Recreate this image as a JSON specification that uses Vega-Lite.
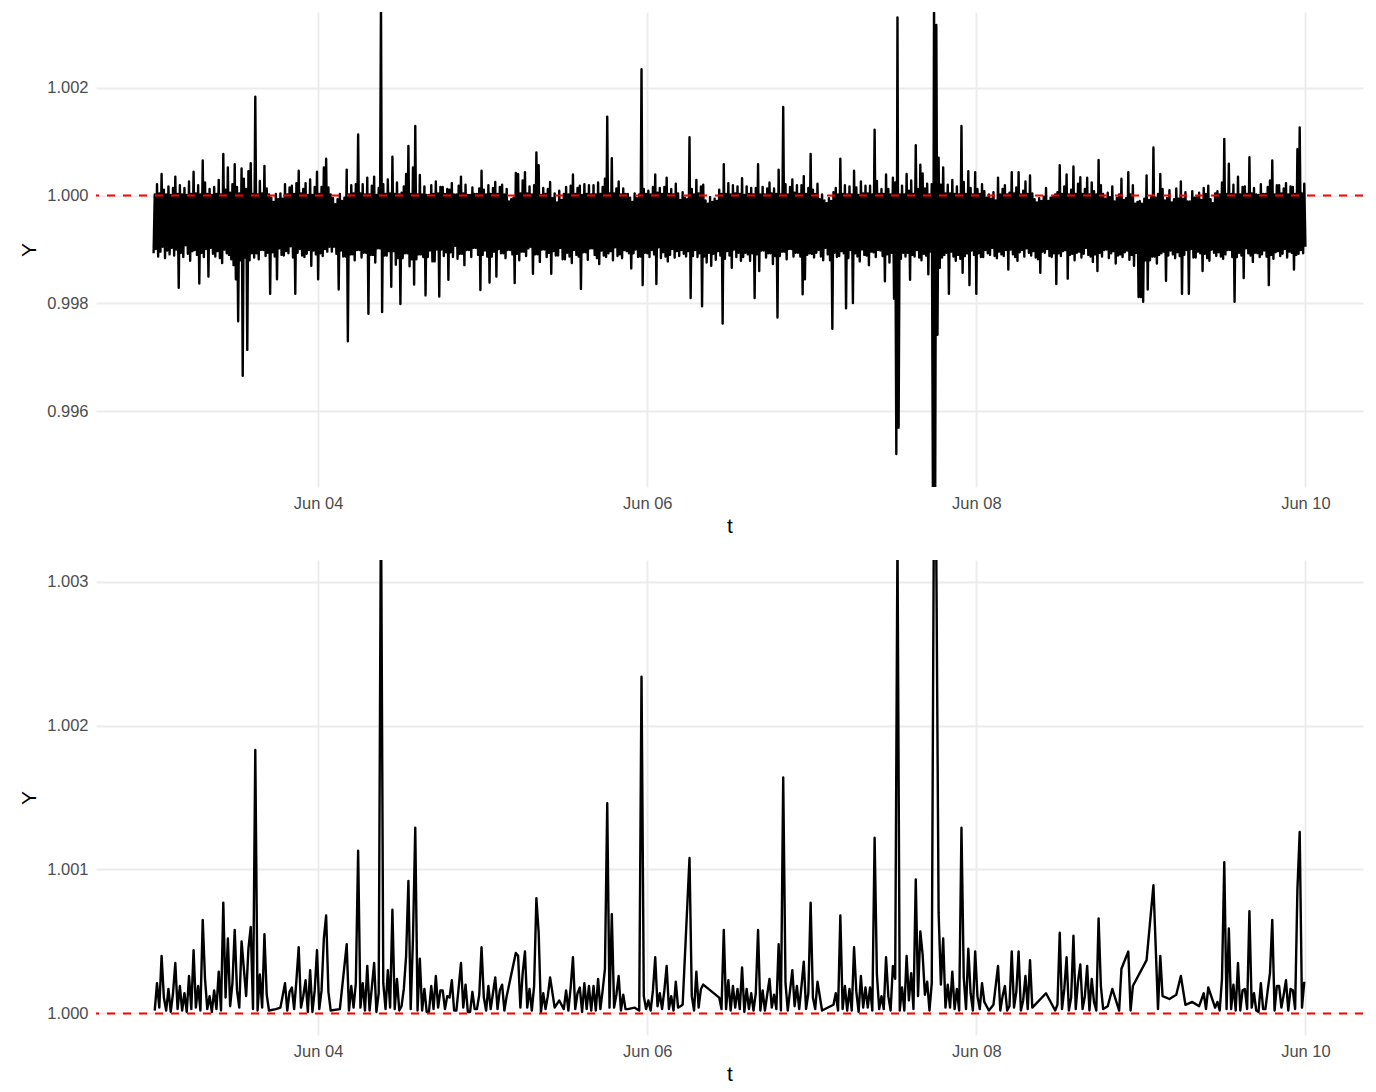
{
"$schema": "https://vega.github.io/schema/vega-lite/v6.json",
"padding": {"left": 18, "top": 12, "right": 14, "bottom": 5},
"config": {
 "view": {"stroke": null},
 "font": "Liberation Sans",
 "axis": {"labelFont": "Liberation Sans", "labelFontSize": 16.5, "labelColor": "#4D4D4D", "titleFont": "Liberation Sans", "titleFontSize": 21, "titleFontWeight": "normal", "titleColor": "#000000", "ticks": false, "domain": false, "gridColor": "#EBEBEB", "gridWidth": 1.8, "labelPadding": 8, "labelFlush": false, "labelOverlap": false}
},
"data": {"values": [
{"t":"2024-06-03T00:00","Y":0.99893},{"t":"2024-06-03T00:10","Y":1.00002},{"t":"2024-06-03T00:20","Y":0.99901},{"t":"2024-06-03T00:30","Y":1.00021},{"t":"2024-06-03T00:40","Y":0.99887},{"t":"2024-06-03T00:50","Y":1.00004},
{"t":"2024-06-03T01:00","Y":0.99896},{"t":"2024-06-03T01:10","Y":1.00040},{"t":"2024-06-03T01:20","Y":0.99905},{"t":"2024-06-03T01:30","Y":1.00011},{"t":"2024-06-03T01:40","Y":0.99884},{"t":"2024-06-03T01:50","Y":1.00002},
{"t":"2024-06-03T02:00","Y":0.99898},{"t":"2024-06-03T02:10","Y":1.00017},{"t":"2024-06-03T02:20","Y":0.99891},{"t":"2024-06-03T02:30","Y":1.00001},{"t":"2024-06-03T02:40","Y":0.99903},{"t":"2024-06-03T02:50","Y":1.00014},
{"t":"2024-06-03T03:00","Y":0.99889},{"t":"2024-06-03T03:10","Y":1.00035},{"t":"2024-06-03T03:20","Y":0.99900},{"t":"2024-06-03T03:30","Y":1.00003},{"t":"2024-06-03T03:40","Y":0.99829},{"t":"2024-06-03T03:50","Y":1.00019},
{"t":"2024-06-03T04:00","Y":0.99894},{"t":"2024-06-03T04:10","Y":1.00002},{"t":"2024-06-03T04:20","Y":0.99886},{"t":"2024-06-03T04:30","Y":1.00014},{"t":"2024-06-03T04:40","Y":0.99908},{"t":"2024-06-03T04:50","Y":1.00001},
{"t":"2024-06-03T05:00","Y":0.99892},{"t":"2024-06-03T05:10","Y":1.00026},{"t":"2024-06-03T05:20","Y":0.99879},{"t":"2024-06-03T05:30","Y":1.00003},{"t":"2024-06-03T05:40","Y":0.99897},{"t":"2024-06-03T05:50","Y":1.00044},
{"t":"2024-06-03T06:00","Y":0.99899},{"t":"2024-06-03T06:10","Y":1.00004},{"t":"2024-06-03T06:20","Y":0.99890},{"t":"2024-06-03T06:30","Y":1.00019},{"t":"2024-06-03T06:40","Y":0.99837},{"t":"2024-06-03T06:50","Y":1.00002},
{"t":"2024-06-03T07:00","Y":0.99894},{"t":"2024-06-03T07:10","Y":1.00065},{"t":"2024-06-03T07:20","Y":0.99886},{"t":"2024-06-03T07:30","Y":1.00024},{"t":"2024-06-03T07:40","Y":0.99901},{"t":"2024-06-03T07:50","Y":1.00003},
{"t":"2024-06-03T08:00","Y":0.99850},{"t":"2024-06-03T08:10","Y":1.00012},{"t":"2024-06-03T08:20","Y":0.99903},{"t":"2024-06-03T08:30","Y":1.00001},{"t":"2024-06-03T08:40","Y":0.99892},{"t":"2024-06-03T08:50","Y":1.00016},
{"t":"2024-06-03T09:00","Y":0.99887},{"t":"2024-06-03T09:10","Y":1.00003},{"t":"2024-06-03T09:20","Y":0.99897},{"t":"2024-06-03T09:30","Y":1.00029},{"t":"2024-06-03T09:40","Y":0.99884},{"t":"2024-06-03T09:50","Y":1.00002},
{"t":"2024-06-03T10:00","Y":0.99875},{"t":"2024-06-03T10:10","Y":1.00077},{"t":"2024-06-03T10:20","Y":0.99900},{"t":"2024-06-03T10:30","Y":1.00011},{"t":"2024-06-03T10:40","Y":0.99893},{"t":"2024-06-03T10:50","Y":1.00052},
{"t":"2024-06-03T11:00","Y":0.99890},{"t":"2024-06-03T11:10","Y":1.00005},{"t":"2024-06-03T11:20","Y":0.99882},{"t":"2024-06-03T11:30","Y":1.00021},{"t":"2024-06-03T11:40","Y":0.99871},{"t":"2024-06-03T11:50","Y":1.00058},
{"t":"2024-06-03T12:00","Y":0.99845},{"t":"2024-06-03T12:10","Y":1.00016},{"t":"2024-06-03T12:20","Y":0.99767},{"t":"2024-06-03T12:30","Y":1.00004},{"t":"2024-06-03T12:40","Y":0.99880},{"t":"2024-06-03T12:50","Y":1.00050},
{"t":"2024-06-03T13:00","Y":0.99666},{"t":"2024-06-03T13:10","Y":1.00031},{"t":"2024-06-03T13:20","Y":0.99885},{"t":"2024-06-03T13:30","Y":1.00012},{"t":"2024-06-03T13:40","Y":0.99714},{"t":"2024-06-03T13:50","Y":1.00045},
{"t":"2024-06-03T14:00","Y":0.99880},{"t":"2024-06-03T14:10","Y":1.00060},{"t":"2024-06-03T14:20","Y":0.99893},{"t":"2024-06-03T14:30","Y":1.00003},{"t":"2024-06-03T14:40","Y":0.99885},{"t":"2024-06-03T14:50","Y":1.00183},
{"t":"2024-06-03T15:00","Y":0.99893},{"t":"2024-06-03T15:10","Y":1.00002},{"t":"2024-06-03T15:20","Y":0.99882},{"t":"2024-06-03T15:30","Y":1.00027},{"t":"2024-06-03T15:40","Y":0.99899},{"t":"2024-06-03T15:50","Y":1.00004},
{"t":"2024-06-03T16:00","Y":0.99899},{"t":"2024-06-03T16:10","Y":1.00055},{"t":"2024-06-03T16:20","Y":0.99888},{"t":"2024-06-03T16:30","Y":1.00013},{"t":"2024-06-03T16:40","Y":0.99894},{"t":"2024-06-03T16:50","Y":1.00002},
{"t":"2024-06-03T17:00","Y":0.99818},{"t":"2024-06-03T17:10","Y":0.99996},{"t":"2024-06-03T17:20","Y":0.99895},{"t":"2024-06-03T17:30","Y":0.99988},{"t":"2024-06-03T17:40","Y":0.99887},{"t":"2024-06-03T17:50","Y":1.00003},
{"t":"2024-06-03T18:00","Y":0.99845},{"t":"2024-06-03T18:10","Y":0.99993},{"t":"2024-06-03T18:20","Y":0.99902},{"t":"2024-06-03T18:30","Y":1.00004},{"t":"2024-06-03T18:40","Y":0.99890},{"t":"2024-06-03T18:50","Y":0.99994},
{"t":"2024-06-03T19:00","Y":0.99889},{"t":"2024-06-03T19:10","Y":1.00021},{"t":"2024-06-03T19:20","Y":0.99897},{"t":"2024-06-03T19:30","Y":1.00002},{"t":"2024-06-03T19:40","Y":0.99893},{"t":"2024-06-03T19:50","Y":1.00015},
{"t":"2024-06-03T20:00","Y":0.99906},{"t":"2024-06-03T20:10","Y":1.00018},{"t":"2024-06-03T20:20","Y":0.99885},{"t":"2024-06-03T20:30","Y":1.00003},{"t":"2024-06-03T20:40","Y":0.99818},{"t":"2024-06-03T20:50","Y":1.00023},
{"t":"2024-06-03T21:00","Y":0.99894},{"t":"2024-06-03T21:10","Y":1.00046},{"t":"2024-06-03T21:20","Y":0.99901},{"t":"2024-06-03T21:30","Y":1.00004},{"t":"2024-06-03T21:40","Y":0.99889},{"t":"2024-06-03T21:50","Y":1.00012},
{"t":"2024-06-03T22:00","Y":0.99886},{"t":"2024-06-03T22:10","Y":1.00023},{"t":"2024-06-03T22:20","Y":0.99892},{"t":"2024-06-03T22:30","Y":1.00001},{"t":"2024-06-03T22:40","Y":0.99899},{"t":"2024-06-03T22:50","Y":1.00030},
{"t":"2024-06-03T23:00","Y":0.99870},{"t":"2024-06-03T23:10","Y":1.00001},{"t":"2024-06-03T23:20","Y":0.99898},{"t":"2024-06-03T23:30","Y":1.00016},{"t":"2024-06-03T23:40","Y":0.99891},{"t":"2024-06-03T23:50","Y":1.00044},
{"t":"2024-06-04T00:00","Y":0.99845},{"t":"2024-06-04T00:10","Y":1.00003},{"t":"2024-06-04T00:20","Y":0.99893},{"t":"2024-06-04T00:30","Y":1.00016},{"t":"2024-06-04T00:40","Y":0.99888},{"t":"2024-06-04T00:50","Y":1.00052},
{"t":"2024-06-04T01:00","Y":0.99901},{"t":"2024-06-04T01:10","Y":1.00068},{"t":"2024-06-04T01:20","Y":0.99896},{"t":"2024-06-04T01:30","Y":1.00015},{"t":"2024-06-04T01:40","Y":0.99905},{"t":"2024-06-04T01:50","Y":1.00002},
{"t":"2024-06-04T02:00","Y":0.99896},{"t":"2024-06-04T02:10","Y":0.99995},{"t":"2024-06-04T02:20","Y":0.99905},{"t":"2024-06-04T02:30","Y":0.99984},{"t":"2024-06-04T02:40","Y":0.99892},{"t":"2024-06-04T02:50","Y":0.99993},
{"t":"2024-06-04T03:00","Y":0.99826},{"t":"2024-06-04T03:10","Y":1.00003},{"t":"2024-06-04T03:20","Y":0.99898},{"t":"2024-06-04T03:30","Y":0.99990},{"t":"2024-06-04T03:40","Y":0.99887},{"t":"2024-06-04T03:50","Y":0.99996},
{"t":"2024-06-04T04:00","Y":0.99887},{"t":"2024-06-04T04:10","Y":1.00048},{"t":"2024-06-04T04:20","Y":0.99730},{"t":"2024-06-04T04:30","Y":1.00002},{"t":"2024-06-04T04:40","Y":0.99891},{"t":"2024-06-04T04:50","Y":1.00019},
{"t":"2024-06-04T05:00","Y":0.99891},{"t":"2024-06-04T05:10","Y":1.00004},{"t":"2024-06-04T05:20","Y":0.99880},{"t":"2024-06-04T05:30","Y":1.00021},{"t":"2024-06-04T05:40","Y":0.99899},{"t":"2024-06-04T05:50","Y":1.00113},
{"t":"2024-06-04T06:00","Y":0.99899},{"t":"2024-06-04T06:10","Y":1.00004},{"t":"2024-06-04T06:20","Y":0.99885},{"t":"2024-06-04T06:30","Y":1.00021},{"t":"2024-06-04T06:40","Y":0.99894},{"t":"2024-06-04T06:50","Y":1.00002},
{"t":"2024-06-04T07:00","Y":0.99894},{"t":"2024-06-04T07:10","Y":1.00033},{"t":"2024-06-04T07:20","Y":0.99781},{"t":"2024-06-04T07:30","Y":1.00002},{"t":"2024-06-04T07:40","Y":0.99890},{"t":"2024-06-04T07:50","Y":1.00018},
{"t":"2024-06-04T08:00","Y":0.99890},{"t":"2024-06-04T08:10","Y":1.00035},{"t":"2024-06-04T08:20","Y":0.99876},{"t":"2024-06-04T08:30","Y":1.00001},{"t":"2024-06-04T08:40","Y":0.99902},{"t":"2024-06-04T08:50","Y":1.00014},
{"t":"2024-06-04T09:00","Y":0.99902},{"t":"2024-06-04T09:10","Y":1.00360},{"t":"2024-06-04T09:20","Y":0.99784},{"t":"2024-06-04T09:30","Y":1.00021},{"t":"2024-06-04T09:40","Y":0.99889},{"t":"2024-06-04T09:50","Y":1.00003},
{"t":"2024-06-04T10:00","Y":0.99889},{"t":"2024-06-04T10:10","Y":1.00030},{"t":"2024-06-04T10:20","Y":0.99897},{"t":"2024-06-04T10:30","Y":1.00004},{"t":"2024-06-04T10:40","Y":0.99831},{"t":"2024-06-04T10:50","Y":1.00072},
{"t":"2024-06-04T11:00","Y":0.99897},{"t":"2024-06-04T11:10","Y":1.00003},{"t":"2024-06-04T11:20","Y":0.99872},{"t":"2024-06-04T11:30","Y":1.00024},{"t":"2024-06-04T11:40","Y":0.99884},{"t":"2024-06-04T11:50","Y":1.00002},
{"t":"2024-06-04T12:00","Y":0.99799},{"t":"2024-06-04T12:10","Y":1.00005},{"t":"2024-06-04T12:20","Y":0.99884},{"t":"2024-06-04T12:30","Y":1.00017},{"t":"2024-06-04T12:40","Y":0.99893},{"t":"2024-06-04T12:50","Y":1.00040},
{"t":"2024-06-04T13:00","Y":0.99893},{"t":"2024-06-04T13:10","Y":1.00092},{"t":"2024-06-04T13:20","Y":0.99869},{"t":"2024-06-04T13:30","Y":1.00003},{"t":"2024-06-04T13:40","Y":0.99882},{"t":"2024-06-04T13:50","Y":1.00052},
{"t":"2024-06-04T14:00","Y":0.99835},{"t":"2024-06-04T14:10","Y":1.00129},{"t":"2024-06-04T14:20","Y":0.99882},{"t":"2024-06-04T14:30","Y":1.00002},{"t":"2024-06-04T14:40","Y":0.99891},{"t":"2024-06-04T14:50","Y":1.00038},
{"t":"2024-06-04T15:00","Y":0.99891},{"t":"2024-06-04T15:10","Y":1.00002},{"t":"2024-06-04T15:20","Y":0.99886},{"t":"2024-06-04T15:30","Y":1.00017},{"t":"2024-06-04T15:40","Y":0.99815},{"t":"2024-06-04T15:50","Y":1.00001},
{"t":"2024-06-04T16:00","Y":0.99886},{"t":"2024-06-04T16:10","Y":1.00001},{"t":"2024-06-04T16:20","Y":0.99898},{"t":"2024-06-04T16:30","Y":1.00019},{"t":"2024-06-04T16:40","Y":0.99878},{"t":"2024-06-04T16:50","Y":1.00003},
{"t":"2024-06-04T17:00","Y":0.99878},{"t":"2024-06-04T17:10","Y":1.00026},{"t":"2024-06-04T17:20","Y":0.99900},{"t":"2024-06-04T17:30","Y":1.00004},{"t":"2024-06-04T17:40","Y":0.99813},{"t":"2024-06-04T17:50","Y":1.00016},
{"t":"2024-06-04T18:00","Y":0.99900},{"t":"2024-06-04T18:10","Y":1.00016},{"t":"2024-06-04T18:20","Y":0.99888},{"t":"2024-06-04T18:30","Y":1.00003},{"t":"2024-06-04T18:40","Y":0.99895},{"t":"2024-06-04T18:50","Y":1.00012},
{"t":"2024-06-04T19:00","Y":0.99844},{"t":"2024-06-04T19:10","Y":1.00011},{"t":"2024-06-04T19:20","Y":0.99895},{"t":"2024-06-04T19:30","Y":1.00023},{"t":"2024-06-04T19:40","Y":0.99886},{"t":"2024-06-04T19:50","Y":1.00002},
{"t":"2024-06-04T20:00","Y":0.99907},{"t":"2024-06-04T20:10","Y":1.00002},{"t":"2024-06-04T20:20","Y":0.99883},{"t":"2024-06-04T20:30","Y":1.00018},{"t":"2024-06-04T20:40","Y":0.99892},{"t":"2024-06-04T20:50","Y":1.00035},
{"t":"2024-06-04T21:00","Y":0.99892},{"t":"2024-06-04T21:10","Y":1.00004},{"t":"2024-06-04T21:20","Y":0.99871},{"t":"2024-06-04T21:30","Y":1.00020},{"t":"2024-06-04T21:40","Y":0.99899},{"t":"2024-06-04T21:50","Y":1.00001},
{"t":"2024-06-04T22:00","Y":0.99899},{"t":"2024-06-04T22:10","Y":1.00001},{"t":"2024-06-04T22:20","Y":0.99886},{"t":"2024-06-04T22:30","Y":1.00015},{"t":"2024-06-04T22:40","Y":0.99903},{"t":"2024-06-04T22:50","Y":1.00003},
{"t":"2024-06-04T23:00","Y":0.99903},{"t":"2024-06-04T23:10","Y":1.00003},{"t":"2024-06-04T23:20","Y":0.99890},{"t":"2024-06-04T23:30","Y":1.00013},{"t":"2024-06-04T23:40","Y":0.99825},{"t":"2024-06-04T23:50","Y":1.00046},
{"t":"2024-06-05T00:00","Y":0.99890},{"t":"2024-06-05T00:10","Y":1.00011},{"t":"2024-06-05T00:20","Y":0.99898},{"t":"2024-06-05T00:30","Y":1.00002},{"t":"2024-06-05T00:40","Y":0.99887},{"t":"2024-06-05T00:50","Y":1.00019},
{"t":"2024-06-05T01:00","Y":0.99839},{"t":"2024-06-05T01:10","Y":1.00003},{"t":"2024-06-05T01:20","Y":0.99887},{"t":"2024-06-05T01:30","Y":1.00014},{"t":"2024-06-05T01:40","Y":0.99896},{"t":"2024-06-05T01:50","Y":1.00025},
{"t":"2024-06-05T02:00","Y":0.99850},{"t":"2024-06-05T02:10","Y":1.00003},{"t":"2024-06-05T02:20","Y":0.99901},{"t":"2024-06-05T02:30","Y":1.00016},{"t":"2024-06-05T02:40","Y":0.99893},{"t":"2024-06-05T02:50","Y":1.00020},
{"t":"2024-06-05T03:00","Y":0.99893},{"t":"2024-06-05T03:10","Y":1.00002},{"t":"2024-06-05T03:20","Y":0.99884},{"t":"2024-06-05T03:30","Y":1.00012},{"t":"2024-06-05T03:40","Y":0.99899},{"t":"2024-06-05T03:50","Y":0.99989},
{"t":"2024-06-05T04:00","Y":0.99899},{"t":"2024-06-05T04:10","Y":0.99993},{"t":"2024-06-05T04:20","Y":0.99891},{"t":"2024-06-05T04:30","Y":0.99996},{"t":"2024-06-05T04:40","Y":0.99838},{"t":"2024-06-05T04:50","Y":1.00042},
{"t":"2024-06-05T05:00","Y":0.99892},{"t":"2024-06-05T05:10","Y":1.00040},{"t":"2024-06-05T05:20","Y":0.99880},{"t":"2024-06-05T05:30","Y":1.00004},{"t":"2024-06-05T05:40","Y":0.99896},{"t":"2024-06-05T05:50","Y":1.00028},
{"t":"2024-06-05T06:00","Y":0.99896},{"t":"2024-06-05T06:10","Y":1.00043},{"t":"2024-06-05T06:20","Y":0.99888},{"t":"2024-06-05T06:30","Y":1.00004},{"t":"2024-06-05T06:40","Y":0.99902},{"t":"2024-06-05T06:50","Y":1.00017},
{"t":"2024-06-05T07:00","Y":0.99905},{"t":"2024-06-05T07:10","Y":1.00002},{"t":"2024-06-05T07:20","Y":0.99855},{"t":"2024-06-05T07:30","Y":1.00019},{"t":"2024-06-05T07:40","Y":0.99891},{"t":"2024-06-05T07:50","Y":1.00080},
{"t":"2024-06-05T08:00","Y":0.99891},{"t":"2024-06-05T08:10","Y":1.00056},{"t":"2024-06-05T08:20","Y":0.99877},{"t":"2024-06-05T08:30","Y":1.00001},{"t":"2024-06-05T08:40","Y":0.99900},{"t":"2024-06-05T08:50","Y":1.00014},
{"t":"2024-06-05T09:00","Y":0.99900},{"t":"2024-06-05T09:10","Y":1.00003},{"t":"2024-06-05T09:20","Y":0.99886},{"t":"2024-06-05T09:30","Y":1.00012},{"t":"2024-06-05T09:40","Y":0.99894},{"t":"2024-06-05T09:50","Y":1.00025},
{"t":"2024-06-05T10:00","Y":0.99855},{"t":"2024-06-05T10:10","Y":0.99995},{"t":"2024-06-05T10:20","Y":0.99897},{"t":"2024-06-05T10:30","Y":1.00004},{"t":"2024-06-05T10:40","Y":0.99889},{"t":"2024-06-05T10:50","Y":0.99987},
{"t":"2024-06-05T11:00","Y":0.99889},{"t":"2024-06-05T11:10","Y":1.00009},{"t":"2024-06-05T11:20","Y":0.99903},{"t":"2024-06-05T11:30","Y":0.99992},{"t":"2024-06-05T11:40","Y":0.99882},{"t":"2024-06-05T11:50","Y":1.00003},
{"t":"2024-06-05T12:00","Y":0.99882},{"t":"2024-06-05T12:10","Y":1.00016},{"t":"2024-06-05T12:20","Y":0.99894},{"t":"2024-06-05T12:30","Y":1.00002},{"t":"2024-06-05T12:40","Y":0.99887},{"t":"2024-06-05T12:50","Y":1.00018},
{"t":"2024-06-05T13:00","Y":0.99875},{"t":"2024-06-05T13:10","Y":1.00039},{"t":"2024-06-05T13:20","Y":0.99899},{"t":"2024-06-05T13:30","Y":1.00003},{"t":"2024-06-05T13:40","Y":0.99890},{"t":"2024-06-05T13:50","Y":1.00014},
{"t":"2024-06-05T14:00","Y":0.99887},{"t":"2024-06-05T14:10","Y":1.00018},{"t":"2024-06-05T14:20","Y":0.99827},{"t":"2024-06-05T14:30","Y":1.00001},{"t":"2024-06-05T14:40","Y":0.99895},{"t":"2024-06-05T14:50","Y":1.00021},
{"t":"2024-06-05T15:00","Y":0.99895},{"t":"2024-06-05T15:10","Y":1.00003},{"t":"2024-06-05T15:20","Y":0.99881},{"t":"2024-06-05T15:30","Y":1.00019},{"t":"2024-06-05T15:40","Y":0.99902},{"t":"2024-06-05T15:50","Y":1.00002},
{"t":"2024-06-05T16:00","Y":0.99902},{"t":"2024-06-05T16:10","Y":1.00019},{"t":"2024-06-05T16:20","Y":0.99890},{"t":"2024-06-05T16:30","Y":1.00002},{"t":"2024-06-05T16:40","Y":0.99884},{"t":"2024-06-05T16:50","Y":1.00024},
{"t":"2024-06-05T17:00","Y":0.99873},{"t":"2024-06-05T17:10","Y":1.00003},{"t":"2024-06-05T17:20","Y":0.99898},{"t":"2024-06-05T17:30","Y":1.00016},{"t":"2024-06-05T17:40","Y":0.99889},{"t":"2024-06-05T17:50","Y":1.00031},
{"t":"2024-06-05T18:00","Y":0.99886},{"t":"2024-06-05T18:10","Y":1.00146},{"t":"2024-06-05T18:20","Y":0.99893},{"t":"2024-06-05T18:30","Y":1.00004},{"t":"2024-06-05T18:40","Y":0.99897},{"t":"2024-06-05T18:50","Y":1.00069},
{"t":"2024-06-05T19:00","Y":0.99880},{"t":"2024-06-05T19:10","Y":1.00004},{"t":"2024-06-05T19:20","Y":0.99904},{"t":"2024-06-05T19:30","Y":1.00013},{"t":"2024-06-05T19:40","Y":0.99888},{"t":"2024-06-05T19:50","Y":1.00026},
{"t":"2024-06-05T20:00","Y":0.99891},{"t":"2024-06-05T20:10","Y":1.00002},{"t":"2024-06-05T20:20","Y":0.99884},{"t":"2024-06-05T20:30","Y":1.00013},{"t":"2024-06-05T20:40","Y":0.99899},{"t":"2024-06-05T20:50","Y":1.00003},
{"t":"2024-06-05T21:00","Y":0.99897},{"t":"2024-06-05T21:10","Y":1.00003},{"t":"2024-06-05T21:20","Y":0.99893},{"t":"2024-06-05T21:30","Y":0.99996},{"t":"2024-06-05T21:40","Y":0.99865},{"t":"2024-06-05T21:50","Y":0.99988},
{"t":"2024-06-05T22:00","Y":0.99893},{"t":"2024-06-05T22:10","Y":1.00004},{"t":"2024-06-05T22:20","Y":0.99900},{"t":"2024-06-05T22:30","Y":0.99995},{"t":"2024-06-05T22:40","Y":0.99886},{"t":"2024-06-05T22:50","Y":1.00002},
{"t":"2024-06-05T23:00","Y":0.99887},{"t":"2024-06-05T23:10","Y":1.00234},{"t":"2024-06-05T23:20","Y":0.99834},{"t":"2024-06-05T23:30","Y":1.00012},{"t":"2024-06-05T23:40","Y":0.99894},{"t":"2024-06-05T23:50","Y":1.00003},
{"t":"2024-06-06T00:00","Y":0.99893},{"t":"2024-06-06T00:10","Y":1.00009},{"t":"2024-06-06T00:20","Y":0.99886},{"t":"2024-06-06T00:30","Y":1.00002},{"t":"2024-06-06T00:40","Y":0.99899},{"t":"2024-06-06T00:50","Y":1.00016},
{"t":"2024-06-06T01:00","Y":0.99891},{"t":"2024-06-06T01:10","Y":1.00039},{"t":"2024-06-06T01:20","Y":0.99836},{"t":"2024-06-06T01:30","Y":1.00005},{"t":"2024-06-06T01:40","Y":0.99904},{"t":"2024-06-06T01:50","Y":1.00014},
{"t":"2024-06-06T02:00","Y":0.99884},{"t":"2024-06-06T02:10","Y":1.00003},{"t":"2024-06-06T02:20","Y":0.99895},{"t":"2024-06-06T02:30","Y":1.00016},{"t":"2024-06-06T02:40","Y":0.99887},{"t":"2024-06-06T02:50","Y":1.00033},
{"t":"2024-06-06T03:00","Y":0.99878},{"t":"2024-06-06T03:10","Y":1.00003},{"t":"2024-06-06T03:20","Y":0.99890},{"t":"2024-06-06T03:30","Y":1.00012},{"t":"2024-06-06T03:40","Y":0.99901},{"t":"2024-06-06T03:50","Y":1.00002},
{"t":"2024-06-06T04:00","Y":0.99885},{"t":"2024-06-06T04:10","Y":1.00022},{"t":"2024-06-06T04:20","Y":0.99897},{"t":"2024-06-06T04:30","Y":1.00004},{"t":"2024-06-06T04:40","Y":0.99888},{"t":"2024-06-06T04:50","Y":0.99992},
{"t":"2024-06-06T05:00","Y":0.99899},{"t":"2024-06-06T05:10","Y":1.00006},{"t":"2024-06-06T05:20","Y":0.99892},{"t":"2024-06-06T05:30","Y":0.99996},{"t":"2024-06-06T05:40","Y":0.99887},{"t":"2024-06-06T05:50","Y":0.99993},
{"t":"2024-06-06T06:00","Y":0.99897},{"t":"2024-06-06T06:10","Y":1.00108},{"t":"2024-06-06T06:20","Y":0.99810},{"t":"2024-06-06T06:30","Y":1.00012},{"t":"2024-06-06T06:40","Y":0.99888},{"t":"2024-06-06T06:50","Y":1.00002},
{"t":"2024-06-06T07:00","Y":0.99899},{"t":"2024-06-06T07:10","Y":1.00029},{"t":"2024-06-06T07:20","Y":0.99886},{"t":"2024-06-06T07:30","Y":1.00004},{"t":"2024-06-06T07:40","Y":0.99893},{"t":"2024-06-06T07:50","Y":1.00017},
{"t":"2024-06-06T08:00","Y":0.99795},{"t":"2024-06-06T08:10","Y":1.00020},{"t":"2024-06-06T08:20","Y":0.99887},{"t":"2024-06-06T08:30","Y":0.99991},{"t":"2024-06-06T08:40","Y":0.99876},{"t":"2024-06-06T08:50","Y":0.99985},
{"t":"2024-06-06T09:00","Y":0.99894},{"t":"2024-06-06T09:10","Y":0.99997},{"t":"2024-06-06T09:20","Y":0.99870},{"t":"2024-06-06T09:30","Y":0.99988},{"t":"2024-06-06T09:40","Y":0.99892},{"t":"2024-06-06T09:50","Y":0.99994},
{"t":"2024-06-06T10:00","Y":0.99881},{"t":"2024-06-06T10:10","Y":0.99990},{"t":"2024-06-06T10:20","Y":0.99897},{"t":"2024-06-06T10:30","Y":1.00011},{"t":"2024-06-06T10:40","Y":0.99889},{"t":"2024-06-06T10:50","Y":1.00003},
{"t":"2024-06-06T11:00","Y":0.99763},{"t":"2024-06-06T11:10","Y":1.00058},{"t":"2024-06-06T11:20","Y":0.99883},{"t":"2024-06-06T11:30","Y":1.00003},{"t":"2024-06-06T11:40","Y":0.99897},{"t":"2024-06-06T11:50","Y":1.00023},
{"t":"2024-06-06T12:00","Y":0.99889},{"t":"2024-06-06T12:10","Y":1.00002},{"t":"2024-06-06T12:20","Y":0.99866},{"t":"2024-06-06T12:30","Y":1.00019},{"t":"2024-06-06T12:40","Y":0.99900},{"t":"2024-06-06T12:50","Y":1.00004},
{"t":"2024-06-06T13:00","Y":0.99886},{"t":"2024-06-06T13:10","Y":1.00017},{"t":"2024-06-06T13:20","Y":0.99894},{"t":"2024-06-06T13:30","Y":1.00003},{"t":"2024-06-06T13:40","Y":0.99879},{"t":"2024-06-06T13:50","Y":1.00032},
{"t":"2024-06-06T14:00","Y":0.99886},{"t":"2024-06-06T14:10","Y":1.00001},{"t":"2024-06-06T14:20","Y":0.99894},{"t":"2024-06-06T14:30","Y":1.00017},{"t":"2024-06-06T14:40","Y":0.99891},{"t":"2024-06-06T14:50","Y":1.00003},
{"t":"2024-06-06T15:00","Y":0.99879},{"t":"2024-06-06T15:10","Y":1.00014},{"t":"2024-06-06T15:20","Y":0.99893},{"t":"2024-06-06T15:30","Y":1.00002},{"t":"2024-06-06T15:40","Y":0.99810},{"t":"2024-06-06T15:50","Y":1.00014},
{"t":"2024-06-06T16:00","Y":0.99891},{"t":"2024-06-06T16:10","Y":1.00058},{"t":"2024-06-06T16:20","Y":0.99860},{"t":"2024-06-06T16:30","Y":1.00002},{"t":"2024-06-06T16:40","Y":0.99898},{"t":"2024-06-06T16:50","Y":1.00016},
{"t":"2024-06-06T17:00","Y":0.99898},{"t":"2024-06-06T17:10","Y":1.00002},{"t":"2024-06-06T17:20","Y":0.99885},{"t":"2024-06-06T17:30","Y":1.00013},{"t":"2024-06-06T17:40","Y":0.99893},{"t":"2024-06-06T17:50","Y":1.00024},
{"t":"2024-06-06T18:00","Y":0.99893},{"t":"2024-06-06T18:10","Y":1.00004},{"t":"2024-06-06T18:20","Y":0.99873},{"t":"2024-06-06T18:30","Y":1.00013},{"t":"2024-06-06T18:40","Y":0.99888},{"t":"2024-06-06T18:50","Y":1.00003},
{"t":"2024-06-06T19:00","Y":0.99774},{"t":"2024-06-06T19:10","Y":1.00048},{"t":"2024-06-06T19:20","Y":0.99888},{"t":"2024-06-06T19:30","Y":1.00002},{"t":"2024-06-06T19:40","Y":0.99896},{"t":"2024-06-06T19:50","Y":1.00164},
{"t":"2024-06-06T20:00","Y":0.99896},{"t":"2024-06-06T20:10","Y":1.00021},{"t":"2024-06-06T20:20","Y":0.99882},{"t":"2024-06-06T20:30","Y":1.00002},{"t":"2024-06-06T20:40","Y":0.99901},{"t":"2024-06-06T20:50","Y":1.00016},
{"t":"2024-06-06T21:00","Y":0.99901},{"t":"2024-06-06T21:10","Y":1.00030},{"t":"2024-06-06T21:20","Y":0.99887},{"t":"2024-06-06T21:30","Y":1.00005},{"t":"2024-06-06T21:40","Y":0.99894},{"t":"2024-06-06T21:50","Y":1.00019},
{"t":"2024-06-06T22:00","Y":0.99894},{"t":"2024-06-06T22:10","Y":1.00003},{"t":"2024-06-06T22:20","Y":0.99887},{"t":"2024-06-06T22:30","Y":1.00019},{"t":"2024-06-06T22:40","Y":0.99817},{"t":"2024-06-06T22:50","Y":1.00036},
{"t":"2024-06-06T23:00","Y":0.99845},{"t":"2024-06-06T23:10","Y":1.00003},{"t":"2024-06-06T23:20","Y":0.99890},{"t":"2024-06-06T23:30","Y":1.00014},{"t":"2024-06-06T23:40","Y":0.99893},{"t":"2024-06-06T23:50","Y":1.00077},
{"t":"2024-06-07T00:00","Y":0.99892},{"t":"2024-06-07T00:10","Y":1.00011},{"t":"2024-06-07T00:20","Y":0.99885},{"t":"2024-06-07T00:30","Y":1.00003},{"t":"2024-06-07T00:40","Y":0.99894},{"t":"2024-06-07T00:50","Y":1.00022},
{"t":"2024-06-07T01:00","Y":0.99899},{"t":"2024-06-07T01:10","Y":0.99993},{"t":"2024-06-07T01:20","Y":0.99887},{"t":"2024-06-07T01:30","Y":1.00002},{"t":"2024-06-07T01:40","Y":0.99880},{"t":"2024-06-07T01:50","Y":0.99991},
{"t":"2024-06-07T02:00","Y":0.99903},{"t":"2024-06-07T02:10","Y":0.99986},{"t":"2024-06-07T02:20","Y":0.99891},{"t":"2024-06-07T02:30","Y":0.99995},{"t":"2024-06-07T02:40","Y":0.99880},{"t":"2024-06-07T02:50","Y":0.99990},
{"t":"2024-06-07T03:00","Y":0.99753},{"t":"2024-06-07T03:10","Y":1.00006},{"t":"2024-06-07T03:20","Y":0.99894},{"t":"2024-06-07T03:30","Y":1.00014},{"t":"2024-06-07T03:40","Y":0.99886},{"t":"2024-06-07T03:50","Y":1.00002},
{"t":"2024-06-07T04:00","Y":0.99888},{"t":"2024-06-07T04:10","Y":1.00068},{"t":"2024-06-07T04:20","Y":0.99897},{"t":"2024-06-07T04:30","Y":1.00003},{"t":"2024-06-07T04:40","Y":0.99893},{"t":"2024-06-07T04:50","Y":1.00019},
{"t":"2024-06-07T05:00","Y":0.99791},{"t":"2024-06-07T05:10","Y":1.00002},{"t":"2024-06-07T05:20","Y":0.99884},{"t":"2024-06-07T05:30","Y":1.00017},{"t":"2024-06-07T05:40","Y":0.99899},{"t":"2024-06-07T05:50","Y":1.00002},
{"t":"2024-06-07T06:00","Y":0.99801},{"t":"2024-06-07T06:10","Y":1.00046},{"t":"2024-06-07T06:20","Y":0.99893},{"t":"2024-06-07T06:30","Y":1.00015},{"t":"2024-06-07T06:40","Y":0.99887},{"t":"2024-06-07T06:50","Y":1.00001},
{"t":"2024-06-07T07:00","Y":0.99878},{"t":"2024-06-07T07:10","Y":1.00026},{"t":"2024-06-07T07:20","Y":0.99900},{"t":"2024-06-07T07:30","Y":1.00004},{"t":"2024-06-07T07:40","Y":0.99890},{"t":"2024-06-07T07:50","Y":1.00018},
{"t":"2024-06-07T08:00","Y":0.99889},{"t":"2024-06-07T08:10","Y":1.00004},{"t":"2024-06-07T08:20","Y":0.99871},{"t":"2024-06-07T08:30","Y":1.00018},{"t":"2024-06-07T08:40","Y":0.99896},{"t":"2024-06-07T08:50","Y":1.00002},
{"t":"2024-06-07T09:00","Y":0.99895},{"t":"2024-06-07T09:10","Y":1.00122},{"t":"2024-06-07T09:20","Y":0.99886},{"t":"2024-06-07T09:30","Y":1.00027},{"t":"2024-06-07T09:40","Y":0.99899},{"t":"2024-06-07T09:50","Y":1.00003},
{"t":"2024-06-07T10:00","Y":0.99898},{"t":"2024-06-07T10:10","Y":1.00012},{"t":"2024-06-07T10:20","Y":0.99888},{"t":"2024-06-07T10:30","Y":1.00003},{"t":"2024-06-07T10:40","Y":0.99841},{"t":"2024-06-07T10:50","Y":1.00039},
{"t":"2024-06-07T11:00","Y":0.99891},{"t":"2024-06-07T11:10","Y":1.00012},{"t":"2024-06-07T11:20","Y":0.99876},{"t":"2024-06-07T11:30","Y":1.00002},{"t":"2024-06-07T11:40","Y":0.99894},{"t":"2024-06-07T11:50","Y":1.00033},
{"t":"2024-06-07T12:00","Y":0.99809},{"t":"2024-06-07T12:10","Y":1.00024},{"t":"2024-06-07T12:20","Y":0.99521},{"t":"2024-06-07T12:30","Y":1.00330},{"t":"2024-06-07T12:40","Y":0.99570},{"t":"2024-06-07T12:50","Y":1.00002},
{"t":"2024-06-07T13:00","Y":0.99883},{"t":"2024-06-07T13:10","Y":1.00018},{"t":"2024-06-07T13:20","Y":0.99894},{"t":"2024-06-07T13:30","Y":1.00002},{"t":"2024-06-07T13:40","Y":0.99887},{"t":"2024-06-07T13:50","Y":1.00040},
{"t":"2024-06-07T14:00","Y":0.99894},{"t":"2024-06-07T14:10","Y":1.00009},{"t":"2024-06-07T14:20","Y":0.99844},{"t":"2024-06-07T14:30","Y":1.00028},{"t":"2024-06-07T14:40","Y":0.99890},{"t":"2024-06-07T14:50","Y":1.00003},
{"t":"2024-06-07T15:00","Y":0.99887},{"t":"2024-06-07T15:10","Y":1.00093},{"t":"2024-06-07T15:20","Y":0.99899},{"t":"2024-06-07T15:30","Y":1.00012},{"t":"2024-06-07T15:40","Y":0.99885},{"t":"2024-06-07T15:50","Y":1.00057},
{"t":"2024-06-07T16:00","Y":0.99880},{"t":"2024-06-07T16:10","Y":1.00041},{"t":"2024-06-07T16:20","Y":0.99892},{"t":"2024-06-07T16:30","Y":1.00013},{"t":"2024-06-07T16:40","Y":0.99889},{"t":"2024-06-07T16:50","Y":1.00022},
{"t":"2024-06-07T17:00","Y":0.99854},{"t":"2024-06-07T17:10","Y":1.00002},{"t":"2024-06-07T17:20","Y":0.99896},{"t":"2024-06-07T17:30","Y":1.00021},{"t":"2024-06-07T17:40","Y":0.99450},{"t":"2024-06-07T17:50","Y":1.00370},
{"t":"2024-06-07T18:00","Y":0.99420},{"t":"2024-06-07T18:10","Y":1.00316},{"t":"2024-06-07T18:20","Y":0.99742},{"t":"2024-06-07T18:30","Y":1.00070},{"t":"2024-06-07T18:40","Y":0.99866},{"t":"2024-06-07T18:50","Y":1.00020},
{"t":"2024-06-07T19:00","Y":0.99885},{"t":"2024-06-07T19:10","Y":1.00052},{"t":"2024-06-07T19:20","Y":0.99890},{"t":"2024-06-07T19:30","Y":1.00004},{"t":"2024-06-07T19:40","Y":0.99894},{"t":"2024-06-07T19:50","Y":1.00020},
{"t":"2024-06-07T20:00","Y":0.99818},{"t":"2024-06-07T20:10","Y":1.00004},{"t":"2024-06-07T20:20","Y":0.99896},{"t":"2024-06-07T20:30","Y":1.00029},{"t":"2024-06-07T20:40","Y":0.99887},{"t":"2024-06-07T20:50","Y":1.00003},
{"t":"2024-06-07T21:00","Y":0.99879},{"t":"2024-06-07T21:10","Y":1.00017},{"t":"2024-06-07T21:20","Y":0.99890},{"t":"2024-06-07T21:30","Y":1.00002},{"t":"2024-06-07T21:40","Y":0.99883},{"t":"2024-06-07T21:50","Y":1.00129},
{"t":"2024-06-07T22:00","Y":0.99857},{"t":"2024-06-07T22:10","Y":1.00025},{"t":"2024-06-07T22:20","Y":0.99888},{"t":"2024-06-07T22:30","Y":1.00003},{"t":"2024-06-07T22:40","Y":0.99893},{"t":"2024-06-07T22:50","Y":1.00045},
{"t":"2024-06-07T23:00","Y":0.99834},{"t":"2024-06-07T23:10","Y":1.00014},{"t":"2024-06-07T23:20","Y":0.99898},{"t":"2024-06-07T23:30","Y":1.00002},{"t":"2024-06-07T23:40","Y":0.99890},{"t":"2024-06-07T23:50","Y":1.00043},
{"t":"2024-06-08T00:00","Y":0.99818},{"t":"2024-06-08T00:10","Y":1.00012},{"t":"2024-06-08T00:20","Y":0.99893},{"t":"2024-06-08T00:30","Y":1.00003},{"t":"2024-06-08T00:40","Y":0.99886},{"t":"2024-06-08T00:50","Y":1.00021},
{"t":"2024-06-08T01:00","Y":0.99886},{"t":"2024-06-08T01:10","Y":1.00008},{"t":"2024-06-08T01:20","Y":0.99899},{"t":"2024-06-08T01:30","Y":0.99996},{"t":"2024-06-08T01:40","Y":0.99893},{"t":"2024-06-08T01:50","Y":1.00002},
{"t":"2024-06-08T02:00","Y":0.99890},{"t":"2024-06-08T02:10","Y":0.99994},{"t":"2024-06-08T02:20","Y":0.99903},{"t":"2024-06-08T02:30","Y":1.00006},{"t":"2024-06-08T02:40","Y":0.99888},{"t":"2024-06-08T02:50","Y":0.99991},
{"t":"2024-06-08T03:00","Y":0.99884},{"t":"2024-06-08T03:10","Y":1.00033},{"t":"2024-06-08T03:20","Y":0.99896},{"t":"2024-06-08T03:30","Y":1.00002},{"t":"2024-06-08T03:40","Y":0.99891},{"t":"2024-06-08T03:50","Y":1.00012},
{"t":"2024-06-08T04:00","Y":0.99888},{"t":"2024-06-08T04:10","Y":1.00019},{"t":"2024-06-08T04:20","Y":0.99899},{"t":"2024-06-08T04:30","Y":1.00002},{"t":"2024-06-08T04:40","Y":0.99863},{"t":"2024-06-08T04:50","Y":1.00005},
{"t":"2024-06-08T05:00","Y":0.99900},{"t":"2024-06-08T05:10","Y":1.00043},{"t":"2024-06-08T05:20","Y":0.99891},{"t":"2024-06-08T05:30","Y":1.00004},{"t":"2024-06-08T05:40","Y":0.99886},{"t":"2024-06-08T05:50","Y":1.00015},
{"t":"2024-06-08T06:00","Y":0.99879},{"t":"2024-06-08T06:10","Y":1.00043},{"t":"2024-06-08T06:20","Y":0.99895},{"t":"2024-06-08T06:30","Y":1.00002},{"t":"2024-06-08T06:40","Y":0.99899},{"t":"2024-06-08T06:50","Y":1.00009},
{"t":"2024-06-08T07:00","Y":0.99887},{"t":"2024-06-08T07:10","Y":1.00026},{"t":"2024-06-08T07:20","Y":0.99902},{"t":"2024-06-08T07:30","Y":1.00003},{"t":"2024-06-08T07:40","Y":0.99894},{"t":"2024-06-08T07:50","Y":1.00037},
{"t":"2024-06-08T08:00","Y":0.99889},{"t":"2024-06-08T08:10","Y":1.00004},{"t":"2024-06-08T08:20","Y":0.99897},{"t":"2024-06-08T08:30","Y":0.99993},{"t":"2024-06-08T08:40","Y":0.99885},{"t":"2024-06-08T08:50","Y":0.99987},
{"t":"2024-06-08T09:00","Y":0.99882},{"t":"2024-06-08T09:10","Y":0.99995},{"t":"2024-06-08T09:20","Y":0.99857},{"t":"2024-06-08T09:30","Y":0.99990},{"t":"2024-06-08T09:40","Y":0.99896},{"t":"2024-06-08T09:50","Y":0.99998},
{"t":"2024-06-08T10:00","Y":0.99894},{"t":"2024-06-08T10:10","Y":1.00014},{"t":"2024-06-08T10:20","Y":0.99901},{"t":"2024-06-08T10:30","Y":0.99990},{"t":"2024-06-08T10:40","Y":0.99888},{"t":"2024-06-08T10:50","Y":0.99996},
{"t":"2024-06-08T11:00","Y":0.99886},{"t":"2024-06-08T11:10","Y":0.99998},{"t":"2024-06-08T11:20","Y":0.99893},{"t":"2024-06-08T11:30","Y":1.00002},{"t":"2024-06-08T11:40","Y":0.99836},{"t":"2024-06-08T11:50","Y":1.00006},
{"t":"2024-06-08T12:00","Y":0.99893},{"t":"2024-06-08T12:10","Y":1.00056},{"t":"2024-06-08T12:20","Y":0.99888},{"t":"2024-06-08T12:30","Y":1.00003},{"t":"2024-06-08T12:40","Y":0.99897},{"t":"2024-06-08T12:50","Y":1.00017},
{"t":"2024-06-08T13:00","Y":0.99899},{"t":"2024-06-08T13:10","Y":1.00039},{"t":"2024-06-08T13:20","Y":0.99846},{"t":"2024-06-08T13:30","Y":1.00002},{"t":"2024-06-08T13:40","Y":0.99890},{"t":"2024-06-08T13:50","Y":1.00011},
{"t":"2024-06-08T14:00","Y":0.99892},{"t":"2024-06-08T14:10","Y":1.00054},{"t":"2024-06-08T14:20","Y":0.99880},{"t":"2024-06-08T14:30","Y":1.00003},{"t":"2024-06-08T14:40","Y":0.99894},{"t":"2024-06-08T14:50","Y":1.00022},
{"t":"2024-06-08T15:00","Y":0.99896},{"t":"2024-06-08T15:10","Y":1.00034},{"t":"2024-06-08T15:20","Y":0.99885},{"t":"2024-06-08T15:30","Y":1.00003},{"t":"2024-06-08T15:40","Y":0.99892},{"t":"2024-06-08T15:50","Y":1.00012},
{"t":"2024-06-08T16:00","Y":0.99903},{"t":"2024-06-08T16:10","Y":1.00033},{"t":"2024-06-08T16:20","Y":0.99890},{"t":"2024-06-08T16:30","Y":1.00002},{"t":"2024-06-08T16:40","Y":0.99887},{"t":"2024-06-08T16:50","Y":1.00024},
{"t":"2024-06-08T17:00","Y":0.99877},{"t":"2024-06-08T17:10","Y":1.00008},{"t":"2024-06-08T17:20","Y":0.99891},{"t":"2024-06-08T17:30","Y":1.00002},{"t":"2024-06-08T17:40","Y":0.99860},{"t":"2024-06-08T17:50","Y":1.00066},
{"t":"2024-06-08T18:00","Y":0.99894},{"t":"2024-06-08T18:10","Y":1.00019},{"t":"2024-06-08T18:20","Y":0.99887},{"t":"2024-06-08T18:30","Y":1.00003},{"t":"2024-06-08T18:40","Y":0.99899},{"t":"2024-06-08T18:50","Y":0.99994},
{"t":"2024-06-08T19:00","Y":0.99900},{"t":"2024-06-08T19:10","Y":1.00005},{"t":"2024-06-08T19:20","Y":0.99884},{"t":"2024-06-08T19:30","Y":0.99997},{"t":"2024-06-08T19:40","Y":0.99893},{"t":"2024-06-08T19:50","Y":1.00017},
{"t":"2024-06-08T20:00","Y":0.99897},{"t":"2024-06-08T20:10","Y":0.99989},{"t":"2024-06-08T20:20","Y":0.99874},{"t":"2024-06-08T20:30","Y":0.99996},{"t":"2024-06-08T20:40","Y":0.99889},{"t":"2024-06-08T20:50","Y":1.00002},
{"t":"2024-06-08T21:00","Y":0.99891},{"t":"2024-06-08T21:10","Y":1.00031},{"t":"2024-06-08T21:20","Y":0.99886},{"t":"2024-06-08T21:30","Y":0.99992},{"t":"2024-06-08T21:40","Y":0.99895},{"t":"2024-06-08T21:50","Y":0.99995},
{"t":"2024-06-08T22:00","Y":0.99898},{"t":"2024-06-08T22:10","Y":1.00043},{"t":"2024-06-08T22:20","Y":0.99881},{"t":"2024-06-08T22:30","Y":1.00002},{"t":"2024-06-08T22:40","Y":0.99890},{"t":"2024-06-08T22:50","Y":1.00019},
{"t":"2024-06-08T23:00","Y":0.99870},{"t":"2024-06-08T23:10","Y":0.99985},{"t":"2024-06-08T23:20","Y":0.99894},{"t":"2024-06-08T23:30","Y":0.99988},{"t":"2024-06-08T23:40","Y":0.99812},{"t":"2024-06-08T23:50","Y":0.99990},
{"t":"2024-06-09T00:00","Y":0.99812},{"t":"2024-06-09T00:10","Y":0.99985},{"t":"2024-06-09T00:20","Y":0.99803},{"t":"2024-06-09T00:30","Y":0.99994},{"t":"2024-06-09T00:40","Y":0.99880},{"t":"2024-06-09T00:50","Y":1.00037},
{"t":"2024-06-09T01:00","Y":0.99826},{"t":"2024-06-09T01:10","Y":0.99992},{"t":"2024-06-09T01:20","Y":0.99880},{"t":"2024-06-09T01:30","Y":0.99997},{"t":"2024-06-09T01:40","Y":0.99887},{"t":"2024-06-09T01:50","Y":1.00089},
{"t":"2024-06-09T02:00","Y":0.99887},{"t":"2024-06-09T02:10","Y":0.99996},{"t":"2024-06-09T02:20","Y":0.99874},{"t":"2024-06-09T02:30","Y":1.00003},{"t":"2024-06-09T02:40","Y":0.99890},{"t":"2024-06-09T02:50","Y":1.00040},
{"t":"2024-06-09T03:00","Y":0.99893},{"t":"2024-06-09T03:10","Y":1.00012},{"t":"2024-06-09T03:20","Y":0.99896},{"t":"2024-06-09T03:30","Y":0.99991},{"t":"2024-06-09T03:40","Y":0.99842},{"t":"2024-06-09T03:50","Y":0.99995},
{"t":"2024-06-09T04:00","Y":0.99889},{"t":"2024-06-09T04:10","Y":1.00010},{"t":"2024-06-09T04:20","Y":0.99898},{"t":"2024-06-09T04:30","Y":0.99987},{"t":"2024-06-09T04:40","Y":0.99891},{"t":"2024-06-09T04:50","Y":0.99993},
{"t":"2024-06-09T05:00","Y":0.99884},{"t":"2024-06-09T05:10","Y":1.00013},{"t":"2024-06-09T05:20","Y":0.99895},{"t":"2024-06-09T05:30","Y":0.99994},{"t":"2024-06-09T05:40","Y":0.99888},{"t":"2024-06-09T05:50","Y":1.00026},
{"t":"2024-06-09T06:00","Y":0.99818},{"t":"2024-06-09T06:10","Y":0.99994},{"t":"2024-06-09T06:20","Y":0.99890},{"t":"2024-06-09T06:30","Y":1.00006},{"t":"2024-06-09T06:40","Y":0.99899},{"t":"2024-06-09T06:50","Y":0.99989},
{"t":"2024-06-09T07:00","Y":0.99818},{"t":"2024-06-09T07:10","Y":0.99989},{"t":"2024-06-09T07:20","Y":0.99901},{"t":"2024-06-09T07:30","Y":1.00008},{"t":"2024-06-09T07:40","Y":0.99885},{"t":"2024-06-09T07:50","Y":0.99996},
{"t":"2024-06-09T08:00","Y":0.99885},{"t":"2024-06-09T08:10","Y":0.99997},{"t":"2024-06-09T08:20","Y":0.99896},{"t":"2024-06-09T08:30","Y":1.00005},{"t":"2024-06-09T08:40","Y":0.99893},{"t":"2024-06-09T08:50","Y":0.99992},
{"t":"2024-06-09T09:00","Y":0.99860},{"t":"2024-06-09T09:10","Y":1.00014},{"t":"2024-06-09T09:20","Y":0.99892},{"t":"2024-06-09T09:30","Y":1.00003},{"t":"2024-06-09T09:40","Y":0.99884},{"t":"2024-06-09T09:50","Y":1.00018},
{"t":"2024-06-09T10:00","Y":0.99879},{"t":"2024-06-09T10:10","Y":0.99993},{"t":"2024-06-09T10:20","Y":0.99900},{"t":"2024-06-09T10:30","Y":0.99986},{"t":"2024-06-09T10:40","Y":0.99894},{"t":"2024-06-09T10:50","Y":1.00004},
{"t":"2024-06-09T11:00","Y":0.99888},{"t":"2024-06-09T11:10","Y":1.00008},{"t":"2024-06-09T11:20","Y":0.99895},{"t":"2024-06-09T11:30","Y":1.00002},{"t":"2024-06-09T11:40","Y":0.99887},{"t":"2024-06-09T11:50","Y":1.00024},
{"t":"2024-06-09T12:00","Y":0.99883},{"t":"2024-06-09T12:10","Y":1.00105},{"t":"2024-06-09T12:20","Y":0.99891},{"t":"2024-06-09T12:30","Y":1.00003},{"t":"2024-06-09T12:40","Y":0.99899},{"t":"2024-06-09T12:50","Y":1.00059},
{"t":"2024-06-09T13:00","Y":0.99899},{"t":"2024-06-09T13:10","Y":1.00003},{"t":"2024-06-09T13:20","Y":0.99886},{"t":"2024-06-09T13:30","Y":1.00020},{"t":"2024-06-09T13:40","Y":0.99803},{"t":"2024-06-09T13:50","Y":1.00002},
{"t":"2024-06-09T14:00","Y":0.99886},{"t":"2024-06-09T14:10","Y":1.00035},{"t":"2024-06-09T14:20","Y":0.99894},{"t":"2024-06-09T14:30","Y":1.00002},{"t":"2024-06-09T14:40","Y":0.99889},{"t":"2024-06-09T14:50","Y":1.00016},
{"t":"2024-06-09T15:00","Y":0.99847},{"t":"2024-06-09T15:10","Y":1.00017},{"t":"2024-06-09T15:20","Y":0.99902},{"t":"2024-06-09T15:30","Y":1.00003},{"t":"2024-06-09T15:40","Y":0.99893},{"t":"2024-06-09T15:50","Y":1.00071},
{"t":"2024-06-09T16:00","Y":0.99889},{"t":"2024-06-09T16:10","Y":1.00004},{"t":"2024-06-09T16:20","Y":0.99877},{"t":"2024-06-09T16:30","Y":1.00014},{"t":"2024-06-09T16:40","Y":0.99894},{"t":"2024-06-09T16:50","Y":1.00002},
{"t":"2024-06-09T17:00","Y":0.99893},{"t":"2024-06-09T17:10","Y":1.00001},{"t":"2024-06-09T17:20","Y":0.99886},{"t":"2024-06-09T17:30","Y":1.00021},{"t":"2024-06-09T17:40","Y":0.99891},{"t":"2024-06-09T17:50","Y":1.00003},
{"t":"2024-06-09T18:00","Y":0.99898},{"t":"2024-06-09T18:10","Y":1.00003},{"t":"2024-06-09T18:20","Y":0.99887},{"t":"2024-06-09T18:30","Y":1.00016},{"t":"2024-06-09T18:40","Y":0.99834},{"t":"2024-06-09T18:50","Y":1.00028},
{"t":"2024-06-09T19:00","Y":0.99890},{"t":"2024-06-09T19:10","Y":1.00065},{"t":"2024-06-09T19:20","Y":0.99883},{"t":"2024-06-09T19:30","Y":1.00002},{"t":"2024-06-09T19:40","Y":0.99895},{"t":"2024-06-09T19:50","Y":1.00019},
{"t":"2024-06-09T20:00","Y":0.99897},{"t":"2024-06-09T20:10","Y":1.00019},{"t":"2024-06-09T20:20","Y":0.99888},{"t":"2024-06-09T20:30","Y":1.00004},{"t":"2024-06-09T20:40","Y":0.99892},{"t":"2024-06-09T20:50","Y":1.00013},
{"t":"2024-06-09T21:00","Y":0.99901},{"t":"2024-06-09T21:10","Y":1.00023},{"t":"2024-06-09T21:20","Y":0.99885},{"t":"2024-06-09T21:30","Y":1.00002},{"t":"2024-06-09T21:40","Y":0.99896},{"t":"2024-06-09T21:50","Y":1.00017},
{"t":"2024-06-09T22:00","Y":0.99894},{"t":"2024-06-09T22:10","Y":1.00016},{"t":"2024-06-09T22:20","Y":0.99863},{"t":"2024-06-09T22:30","Y":1.00003},{"t":"2024-06-09T22:40","Y":0.99890},{"t":"2024-06-09T22:50","Y":1.00086},
{"t":"2024-06-09T23:00","Y":0.99892},{"t":"2024-06-09T23:10","Y":1.00126},{"t":"2024-06-09T23:20","Y":0.99899},{"t":"2024-06-09T23:30","Y":1.00004},{"t":"2024-06-09T23:40","Y":0.99893},{"t":"2024-06-09T23:50","Y":1.00022},
{"t":"2024-06-10T00:00","Y":0.99905}
]},
"spacing": 23,
"vconcat": [
 {
  "width": 1267, "height": 475,
  "layer": [
   {"mark": {"type": "line", "color": "#000000", "strokeWidth": 2.4, "strokeJoin": "round", "clip": true},
    "encoding": {
     "x": {"field": "t", "type": "temporal",
      "scale": {"domain": [{"year":2024,"month":6,"date":2,"hours":15,"minutes":36},{"year":2024,"month":6,"date":10,"hours":8,"minutes":24}], "nice": false},
      "axis": {"values": [{"year":2024,"month":6,"date":4},{"year":2024,"month":6,"date":6},{"year":2024,"month":6,"date":8},{"year":2024,"month":6,"date":10}], "format": "%b %d", "title": "t", "titlePadding": 4}},
     "y": {"field": "Y", "type": "quantitative",
      "scale": {"domain": [0.9946, 1.0034], "nice": false, "zero": false},
      "axis": {"values": [0.996, 0.998, 1.0, 1.002], "format": ".3f", "title": "Y", "titlePadding": 7}}
    }},
   {"data": {"values": [{}]},
    "mark": {"type": "rule", "color": "#FF0000", "strokeWidth": 2, "strokeDash": [8, 8]},
    "encoding": {"y": {"datum": 1, "type": "quantitative",
      "scale": {"domain": [0.9946, 1.0034], "nice": false, "zero": false},
      "axis": {"orient": "right", "values": [0.995, 0.997, 0.999, 1.001, 1.003], "labels": false, "title": null, "gridWidth": 1}}}},
   {"data": {"values": [{}]},
    "mark": {"type": "text", "text": ""},
    "encoding": {"x": {"datum": {"year":2024,"month":6,"date":3}, "type": "temporal",
      "scale": {"domain": [{"year":2024,"month":6,"date":2,"hours":15,"minutes":36},{"year":2024,"month":6,"date":10,"hours":8,"minutes":24}], "nice": false},
      "axis": {"orient": "top", "values": [{"year":2024,"month":6,"date":3},{"year":2024,"month":6,"date":5},{"year":2024,"month":6,"date":7},{"year":2024,"month":6,"date":9}], "labels": false, "title": null, "gridWidth": 1}}}}
  ],
  "resolve": {"axis": {"x": "independent", "y": "independent"}}
 },
 {
  "width": 1267, "height": 475,
  "layer": [
   {"transform": [{"filter": "datum.Y > 1"}],
    "mark": {"type": "line", "color": "#000000", "strokeWidth": 2.4, "strokeJoin": "round", "clip": true},
    "encoding": {
     "x": {"field": "t", "type": "temporal",
      "scale": {"domain": [{"year":2024,"month":6,"date":2,"hours":15,"minutes":36},{"year":2024,"month":6,"date":10,"hours":8,"minutes":24}], "nice": false},
      "axis": {"values": [{"year":2024,"month":6,"date":4},{"year":2024,"month":6,"date":6},{"year":2024,"month":6,"date":8},{"year":2024,"month":6,"date":10}], "format": "%b %d", "title": "t", "titlePadding": 4}},
     "y": {"field": "Y", "type": "quantitative",
      "scale": {"domain": [0.99985, 1.00315], "nice": false, "zero": false},
      "axis": {"values": [1.0, 1.001, 1.002, 1.003], "format": ".3f", "title": "Y", "titlePadding": 7}}
    }},
   {"data": {"values": [{}]},
    "mark": {"type": "rule", "color": "#FF0000", "strokeWidth": 2, "strokeDash": [8, 8]},
    "encoding": {"y": {"datum": 1, "type": "quantitative",
      "scale": {"domain": [0.99985, 1.00315], "nice": false, "zero": false},
      "axis": {"orient": "right", "values": [1.0005, 1.0015, 1.0025], "labels": false, "title": null, "gridWidth": 1}}}},
   {"data": {"values": [{}]},
    "mark": {"type": "text", "text": ""},
    "encoding": {"x": {"datum": {"year":2024,"month":6,"date":3}, "type": "temporal",
      "scale": {"domain": [{"year":2024,"month":6,"date":2,"hours":15,"minutes":36},{"year":2024,"month":6,"date":10,"hours":8,"minutes":24}], "nice": false},
      "axis": {"orient": "top", "values": [{"year":2024,"month":6,"date":3},{"year":2024,"month":6,"date":5},{"year":2024,"month":6,"date":7},{"year":2024,"month":6,"date":9}], "labels": false, "title": null, "gridWidth": 1}}}}
  ],
  "resolve": {"axis": {"x": "independent", "y": "independent"}}
 }
]
}
